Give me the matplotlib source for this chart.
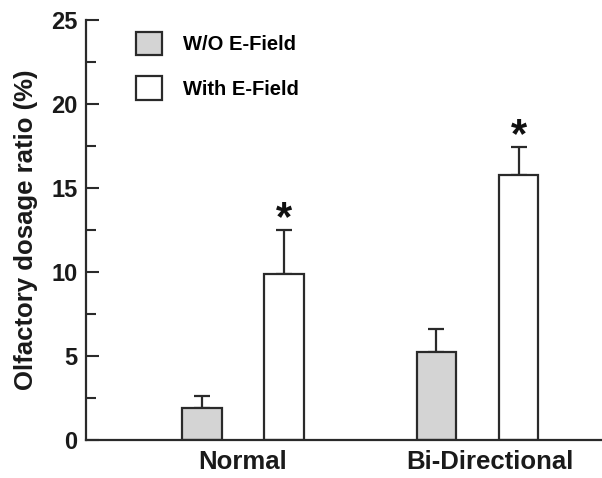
import matplotlib
matplotlib.use("Agg")
import matplotlib.pyplot as plt
import matplotlib.transforms as mtransforms
import numpy as np
from matplotlib.patches import Patch
from matplotlib.ticker import MultipleLocator

plt.rcParams["font.family"] = ["Liberation Sans", "DejaVu Sans"]
plt.rcParams["font.weight"] = "bold"

groups = ["Normal", "Bi-Directional"]
series = ["W/O E-Field", "With E-Field"]
means_wo = [1.9, 5.25]
err_wo = [0.7, 1.35]
means_with = [9.9, 15.75]
err_with = [2.6, 1.7]
signif_wo = [False, False]
signif_with = [True, True]

INK = "#2a2a2a"
GRAY = "#d4d4d4"

fig = plt.figure(figsize=(6.02, 4.78), dpi=100)
ax = fig.add_axes([86 / 602, 38 / 478, 516 / 602, 420 / 478])

x = np.arange(len(groups))
off, w = 0.175, 0.17
for vals, errs, sig, color, dx, lab in [
        (means_wo, err_wo, signif_wo, GRAY, -off, series[0]),
        (means_with, err_with, signif_with, "white", off, series[1])]:
    ax.bar(x + dx, vals, w, color=color, edgecolor=INK, linewidth=1.6,
           label=lab, zorder=2)
    ax.errorbar(x + dx, vals, yerr=[np.zeros(len(vals)), errs], fmt="none",
                ecolor=INK, elinewidth=1.6, capsize=6, capthick=1.6, zorder=1)
    for xi, v, e, s in zip(x + dx, vals, errs, sig):
        if s:
            ax.text(xi, v + e - 0.55, "*", ha="center", va="bottom",
                    fontsize=30, fontweight="bold", color="#111")

ax.set_xlim(-0.6695, 1.531)
ax.set_ylim(0, 25)
ax.set_xticks(x)
ax.set_xticklabels(groups, fontsize=18.5, fontweight="bold", color="#1a1a1a")
ax.tick_params(axis="x", length=0, pad=7)
# the second category label sits a little right of its group centre
lbl = ax.get_xticklabels()[1]
lbl.set_transform(lbl.get_transform() +
                  mtransforms.ScaledTranslation(12 / 100, 0, fig.dpi_scale_trans))
ax.yaxis.set_major_locator(MultipleLocator(5))
ax.yaxis.set_minor_locator(MultipleLocator(2.5))
ax.tick_params(axis="y", which="major", direction="in", length=9.5, width=1.5,
               color=INK, labelsize=17, pad=6, labelcolor="#1a1a1a")
ax.tick_params(axis="y", which="minor", direction="in", length=7, width=1.5,
               color=INK)
for t in ax.get_yticklabels():
    t.set_fontweight("bold")

for s in ["top", "right"]:
    ax.spines[s].set_visible(False)
for s in ["left", "bottom"]:
    ax.spines[s].set_linewidth(1.6)
    ax.spines[s].set_color(INK)

ax.set_ylabel("Olfactory dosage ratio (%)", fontsize=18.5, fontweight="bold",
              color="#1a1a1a")
ax.yaxis.set_label_coords(-0.093, 0.5)

handles = [Patch(facecolor=GRAY, edgecolor=INK, linewidth=1.6),
           Patch(facecolor="white", edgecolor=INK, linewidth=1.6)]
fig.legend(handles, series, loc="upper left",
           bbox_to_anchor=(136 / 602, 1 - 32 / 478), frameon=False,
           prop={"size": 14.5, "weight": "bold"}, handlelength=1.3,
           handleheight=1.4, handletextpad=1.05, labelspacing=1.05,
           borderpad=0, borderaxespad=0)

fig.savefig("out.png", dpi=100)
